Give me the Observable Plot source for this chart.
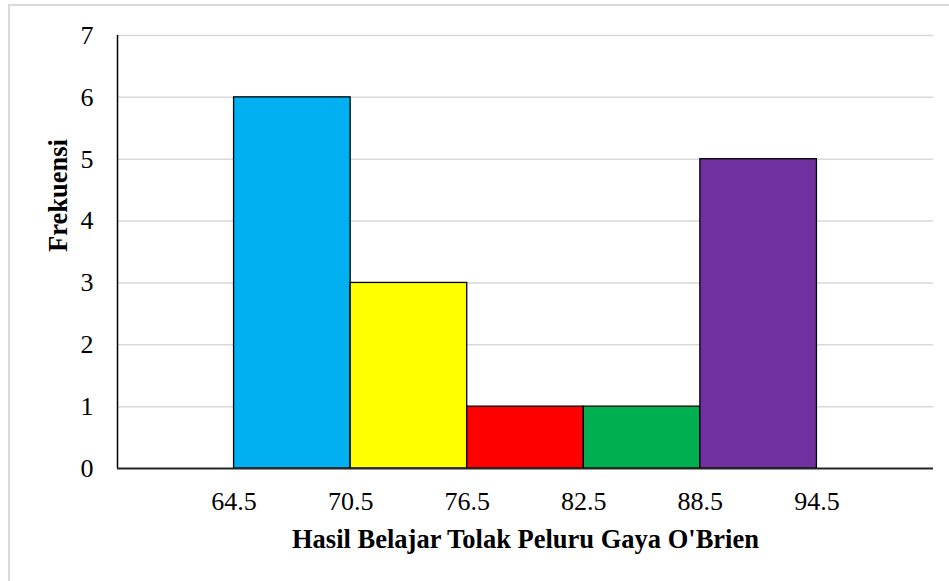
<!DOCTYPE html>
<html>
<head>
<meta charset="utf-8">
<script src="https://cdn.jsdelivr.net/npm/d3@7"></script>
<script src="https://cdn.jsdelivr.net/npm/@observablehq/plot@0.6"></script>
<style>
  html, body { margin: 0; padding: 0; background: #fff; }
  #wrap { position: relative; width: 949px; height: 581px; overflow: hidden; }
  #border { position: absolute; left: 8px; top: 4px; width: 980px; height: 620px; border: 2px solid #d9d9d9; box-sizing: border-box; }
  #chart { position: absolute; left: 0; top: 0; }
  #chart svg, #chart svg text { font-family: "Liberation Serif", "Times New Roman", serif !important; }
</style>
</head>
<body>
<div id="wrap"><div id="border"></div><div id="chart"></div></div>
<script>
const lowerBounds = [64.5, 70.5, 76.5, 82.5, 88.5];
const upperBounds = [70.5, 76.5, 82.5, 88.5, 94.5];
const frequencies = [6, 3, 1, 1, 5];
const barColors = ["#00B0F0", "#FFFF00", "#FF0000", "#00B050", "#7030A0"];
const xTicks = [64.5, 70.5, 76.5, 82.5, 88.5, 94.5];
const yTicks = [0, 1, 2, 3, 4, 5, 6, 7];
const xTitle = "Hasil Belajar Tolak Peluru Gaya O'Brien";
const yTitle = "Frekuensi";

const bins = lowerBounds.map((lo, i) => ({lo, hi: upperBounds[i], f: frequencies[i], c: barColors[i]}));

const chart = Plot.plot({
  width: 949,
  height: 581,
  marginLeft: 117,
  marginRight: 16,
  marginTop: 35,
  marginBottom: 113,
  style: {fontFamily: "'Liberation Serif', 'Times New Roman', serif", fontSize: "26px", color: "#000", background: "transparent"},
  x: {domain: [58.5, 100.5], ticks: xTicks, tickSize: 0, tickPadding: 23, tickFormat: d => d.toFixed(1), label: null},
  y: {domain: [0, 7], ticks: yTicks, tickSize: 0, tickPadding: 24, tickFormat: d => String(d), label: null},
  marks: [
    Plot.ruleY(yTicks.filter(d => d > 0), {stroke: "#d9d9d9", strokeWidth: 1.5}),
    Plot.rectY(bins, {x1: "lo", x2: "hi", y: "f", fill: "c", stroke: "#000", strokeWidth: 1.3, inset: 0}),
    Plot.ruleX([58.5], {stroke: "#000", strokeWidth: 1.5}),
    Plot.ruleY([0], {stroke: "#262626", strokeWidth: 2}),
    Plot.text([xTitle], {frameAnchor: "bottom", dy: 79, fontWeight: "bold", fontSize: 26.5, fill: "#000"}),
    Plot.text([yTitle], {frameAnchor: "left", dx: -59, rotate: -90, fontWeight: "bold", fontSize: 26.5, fill: "#000"})
  ]
});
document.getElementById("chart").appendChild(chart);
</script>
</body>
</html>
